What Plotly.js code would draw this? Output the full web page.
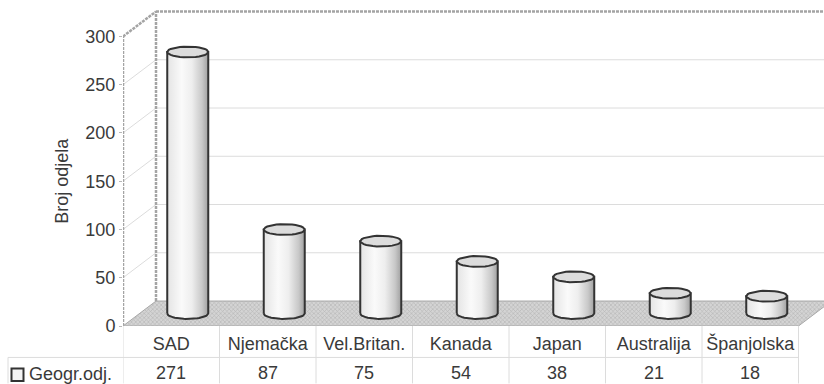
<!DOCTYPE html>
<html>
<head>
<meta charset="utf-8">
<script src="https://cdn.plot.ly/plotly-3.0.0.min.js"></script>
<style>html,body{margin:0;padding:0;background:#fff}#chart{width:824px;height:384px}</style>
</head>
<body>
<div id="chart"></div>
<script>
// Departments per country
const categories = ['SAD', 'Njemačka', 'Vel.Britan.', 'Kanada', 'Japan', 'Australija', 'Španjolska'];
const departments = [271, 87, 75, 54, 38, 21, 18];
const seriesName = 'Geogr.odj.';
const yTicks = [0, 50, 100, 150, 200, 250, 300];
const yTitle = 'Broj odjela';

// Pixel geometry of the oblique box
const W = 824, H = 384;
const plotLeft = 123, plotTop = 8, zeroY = 326.5;
const catPx = 96.5, unitPx = 290 / 300;
const depthX = 33 / catPx, depthY = 25 / unitPx;     // wall offset in axis units
const radiusX = 20.5 / catPx, radiusY = 5.4 / unitPx; // cylinder ellipse radii
const xMin = -0.5, xMax = xMin + (W - plotLeft) / catPx;
const yMax = (zeroY - plotTop) / unitPx;
const TEXT = '#3a3a3a', FONT = 'Liberation Sans, Arial, sans-serif', SIZE = 18;

const px = v => (v - plotLeft) / (W - plotLeft);
const py = v => (zeroY - v) / (zeroY - plotTop);

// Part of an ellipse, sampled from angle a0 to a1
function arc(cx, cy, a0, a1) {
  const xs = [], ys = [];
  for (let i = 0; i <= 32; i++) {
    const a = a0 + (a1 - a0) * i / 32;
    xs.push(cx + radiusX * Math.cos(a));
    ys.push(cy + radiusY * Math.sin(a));
  }
  return [xs, ys];
}

const traces = [];

// Floor of the box
const floorFront = xMin + categories.length;
traces.push({
  x: [xMin, xMin + depthX, floorFront + depthX, floorFront, xMin],
  y: [0, depthY, depthY, 0, 0],
  mode: 'lines', fill: 'toself', hoverinfo: 'skip', showlegend: false,
  fillcolor: '#c9c9c9', line: {color: '#a8a8a8', width: 1},
  fillpattern: {shape: 'x', bgcolor: '#d4d4d4', fgcolor: '#b4b4b4', size: 3, solidity: 0.35}
});

// Cylinders: body with a side-lit gradient, then the lid
categories.forEach((name, i) => {
  const cx = i + depthX / 2, base = depthY / 2, top = base + departments[i];
  const [bx, by] = arc(cx, base, Math.PI, 2 * Math.PI);
  traces.push({
    x: bx.concat([cx + radiusX, cx - radiusX, cx - radiusX]),
    y: by.concat([top, top, base]),
    name, mode: 'lines', fill: 'toself', hoverinfo: 'skip', showlegend: false,
    line: {color: '#333333', width: 2},
    fillgradient: {
      type: 'horizontal',
      colorscale: [[0, '#e4e4e4'], [0.35, '#fafafa'], [0.6, '#eeeeee'], [0.85, '#c8c8c8'], [1, '#a0a0a0']]
    }
  });
  const [ux, uy] = arc(cx, top, 0, 2 * Math.PI);
  traces.push({
    x: ux, y: uy, mode: 'lines', fill: 'toself', hoverinfo: 'skip', showlegend: false,
    fillcolor: '#dcdcdc', line: {color: '#333333', width: 2}
  });
});

const shapes = [];
const GRID = '#dcdcdc', WALL = '#a4a4a4', TABLE = '#dcdcdc';

// Gridlines on the back wall and side wall
yTicks.forEach(t => {
  if (t > 0 && t < 300) {
    shapes.push({type: 'line', layer: 'below', xref: 'x', yref: 'y',
      x0: xMin, y0: t, x1: xMin + depthX, y1: t + depthY, line: {color: GRID, width: 1}});
    shapes.push({type: 'line', layer: 'below', xref: 'x', yref: 'y',
      x0: xMin + depthX, y0: t + depthY, x1: xMax, y1: t + depthY, line: {color: GRID, width: 1}});
  }
});

// Box edges
const yTop = yTicks[yTicks.length - 1];
[
  [xMin, 0, xMin, yTop],
  [xMin, yTop, xMin + depthX, yTop + depthY],
  [xMin + depthX, depthY, xMin + depthX, yTop + depthY],
  [xMin + depthX, yTop + depthY, xMax, yTop + depthY]
].forEach(e => shapes.push({type: 'line', layer: 'below', xref: 'x', yref: 'y',
  x0: e[0], y0: e[1], x1: e[2], y1: e[3], line: {color: WALL, width: 2.5, dash: '3px,1px'}}));

// Data table under the plot
for (let i = 0; i <= categories.length; i++) {
  shapes.push({type: 'line', xref: 'x', yref: 'paper', x0: i - 0.5, x1: i - 0.5,
    y0: py(326.5), y1: py(384), line: {color: TABLE, width: 1}});
}
shapes.push({type: 'line', xref: 'paper', yref: 'paper', x0: px(8), x1: px(798.5),
  y0: py(358), y1: py(358), line: {color: TABLE, width: 1}});
shapes.push({type: 'line', xref: 'paper', yref: 'paper', x0: px(8), x1: px(8),
  y0: py(358), y1: py(384), line: {color: TABLE, width: 1}});
// Legend key
shapes.push({type: 'rect', xref: 'paper', yref: 'paper', x0: px(11.5), x1: px(23.5),
  y0: py(369), y1: py(381.5), fillcolor: '#f4f4f4', line: {color: '#333333', width: 2}});

const font = {family: FONT, size: SIZE, color: TEXT};
const annotations = departments.map((v, i) => ({
  xref: 'x', yref: 'paper', x: i, y: py(373.5), text: String(v), showarrow: false,
  xanchor: 'center', yanchor: 'middle', font
}));
annotations.push({
  xref: 'paper', yref: 'paper', x: px(27), y: py(374.5), text: seriesName, showarrow: false,
  xanchor: 'left', yanchor: 'middle', font
});
annotations.push({
  xref: 'paper', yref: 'paper', x: px(62), y: py(181), text: yTitle, showarrow: false,
  textangle: -90, xanchor: 'center', yanchor: 'middle', font
});

const layout = {
  width: W, height: H,
  margin: {l: plotLeft, r: 0, t: plotTop, b: H - zeroY, pad: 0},
  paper_bgcolor: '#ffffff', plot_bgcolor: '#ffffff',
  showlegend: false,
  xaxis: {
    range: [xMin, xMax], fixedrange: true, zeroline: false, showgrid: false, showline: false,
    tickmode: 'array', tickvals: categories.map((c, i) => i), ticktext: categories,
    ticks: 'outside', ticklen: 1, tickcolor: 'rgba(0,0,0,0)',
    tickfont: font
  },
  yaxis: {
    range: [0, yMax], fixedrange: true, zeroline: false, showgrid: false, showline: false,
    tickmode: 'array', tickvals: yTicks,
    ticks: 'outside', ticklen: 3, tickcolor: '#b8b8b8', tickwidth: 1,
    tickfont: font
  },
  shapes, annotations
};

Plotly.newPlot('chart', traces, layout, {displayModeBar: false, staticPlot: true});
</script>
</body>
</html>
